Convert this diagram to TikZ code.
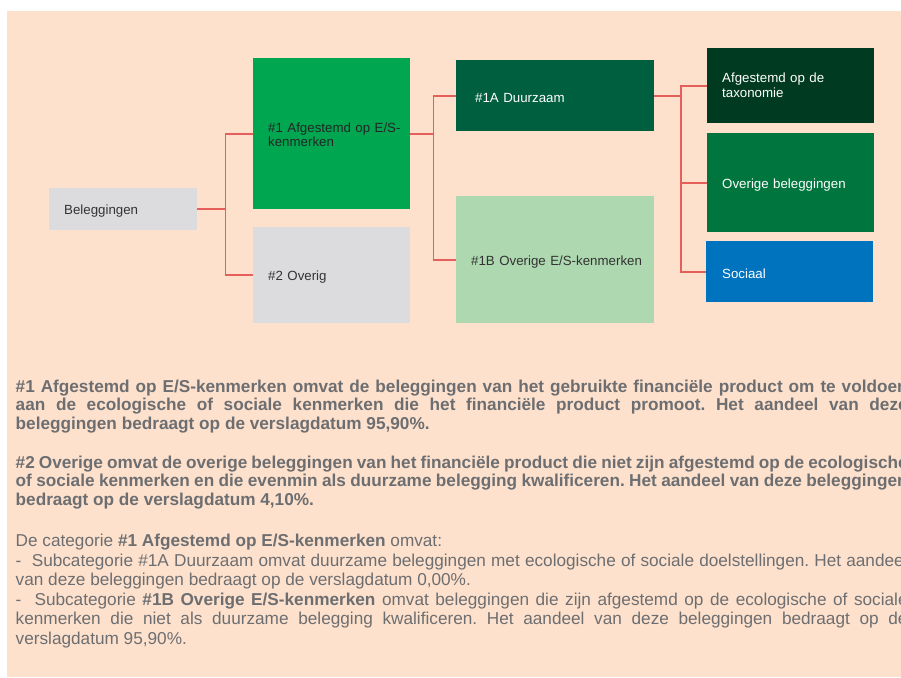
\documentclass[tikz,border=0pt]{standalone}
\usepackage{fontspec}
\setmainfont{Liberation Sans}
\usepackage{tikz}

\definecolor{peach}{HTML}{FDE1CC}
\definecolor{linkred}{HTML}{E5605A}
\definecolor{bodygrey}{HTML}{6D6E71}
\definecolor{boxgrey}{HTML}{DCDCDE}
\definecolor{esgreen}{HTML}{00A650}
\definecolor{dzgreen}{HTML}{005F3F}
\definecolor{obgreen}{HTML}{AED8B0}
\definecolor{taxgreen}{HTML}{003A20}
\definecolor{oblgreen}{HTML}{00763E}
\definecolor{socblue}{HTML}{0073BF}

\begin{document}
\begin{tikzpicture}[x=1pt, y=-1pt,
  box/.style={rectangle, anchor=north west, inner xsep=15pt, inner ysep=0pt,
    align=left, font=\fontsize{13.3}{14.5}\selectfont, text height=14pt},
  link/.style={draw=linkred, line width=1.8pt},
  body/.style={anchor=base west, inner sep=0pt, text width=892pt, align=left,
    text=bodygrey,
    execute at begin node={\frenchspacing\spaceskip=0.278em plus 0.5em minus 0.15em}}]
  \useasboundingbox (0,0) rectangle (901,677);
  \clip (0,0) rectangle (901,677);
  \fill[white] (0,0) rectangle (901,677);
  \fill[peach] (7,11) rectangle (901,677);

  \draw (49,188)  node (bel) [box, fill=boxgrey, text=black!80, text width=118pt, minimum height=42pt] {Beleggingen};
  \draw (253,58)  node (es)  [box, fill=esgreen, text=black!85, text width=127pt, minimum height=151pt, text height=12pt] {\mbox{\#1 Afgestemd op E/S-}\\kenmerken};
  \draw (253,227) node (ov)  [box, fill=boxgrey, text=black!80, text width=127pt, minimum height=96pt] {\#2 Overig};
  \draw (bel.east) -- ++(28,0) |- (es.west) [link];
  \draw (bel.east) -- ++(28,0) |- (ov.west) [link];

  \draw (456,60)  node (dz)  [box, fill=dzgreen, text=white, inner xsep=19pt, text width=160pt, minimum height=71pt] {\#1A Duurzaam};
  \draw (456,196) node (ob)  [box, fill=obgreen, text=black!80, text width=168pt, minimum height=127pt] {\mbox{\#1B Overige E/S-kenmerken}};
  \draw (es.east) -- ++(23,0) |- (dz.west) [link];
  \draw (es.east) -- ++(23,0) |- (ob.west) [link];

  \draw (707,48)  node (tax) [box, fill=taxgreen, text=white, text width=137pt, minimum height=75pt, text height=9pt] {Afgestemd op de\\taxonomie};
  \draw (707,133) node (obl) [box, fill=oblgreen, text=white, text width=137pt, minimum height=99pt] {Overige beleggingen};
  \draw (706,241) node (soc) [box, fill=socblue, text=white, inner xsep=16pt, text width=135pt, minimum height=61pt] {Sociaal};
  \draw (dz.east) -- ++(26.5,0) |- (tax.west) [link];
  \draw (dz.east) -- ++(26.5,0) |- (obl.west) [link];
  \draw (dz.east) -- ++(26.5,0) |- (soc.west) [link];

  \draw (15.5,392) node (par1) [body, font=\bfseries\fontsize{17.2}{18.6}\selectfont]
    {\makebox[892pt][s]{\#1 Afgestemd op E/S-kenmerken omvat de beleggingen van het gebruikte financiële product om te voldoen}\\
     \makebox[892pt][s]{aan de ecologische of sociale kenmerken die het financiële product promoot. Het aandeel van deze}\\
     beleggingen bedraagt op de verslagdatum 95,90\%.};
  \draw (15.5,468) node (par2) [body, font=\bfseries\fontsize{17.2}{18.6}\selectfont]
    {\makebox[892pt][s]{\#2 Overige omvat de overige beleggingen van het financiële product die niet zijn afgestemd op de ecologische}\\
     \makebox[892pt][s]{of sociale kenmerken en die evenmin als duurzame belegging kwalificeren. Het aandeel van deze beleggingen}\\
     bedraagt op de verslagdatum 4,10\%.};
  \draw (15.5,546.5) node (par3) [body, font=\fontsize{17.2}{19.5}\selectfont]
    {De categorie \textbf{\#1 Afgestemd op E/S-kenmerken} omvat:\\
     \makebox[892pt][s]{-~ Subcategorie \#1A Duurzaam omvat duurzame beleggingen met ecologische of sociale doelstellingen. Het aandeel}\\
     van deze beleggingen bedraagt op de verslagdatum 0,00\%.\\
     \makebox[892pt][s]{-~ Subcategorie \textbf{\#1B Overige E/S-kenmerken} omvat beleggingen die zijn afgestemd op de ecologische of sociale}\\
     \makebox[892pt][s]{kenmerken die niet als duurzame belegging kwalificeren. Het aandeel van deze beleggingen bedraagt op de}\\
     verslagdatum 95,90\%.};
\end{tikzpicture}
\end{document}
